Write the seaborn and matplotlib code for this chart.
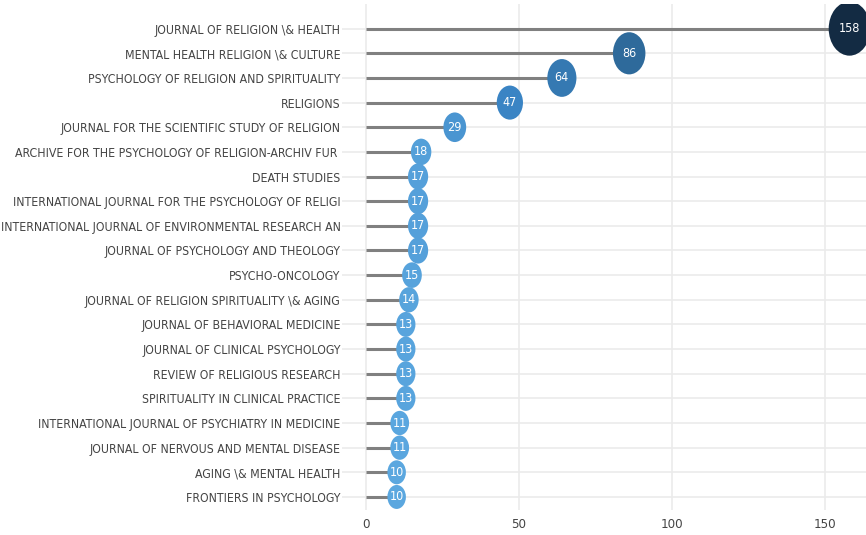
import numpy as np
import pandas as pd
import matplotlib
matplotlib.use("Agg")
import matplotlib.pyplot as plt
import seaborn as sns
from matplotlib.path import Path
from matplotlib.transforms import Affine2D
from matplotlib.colors import LinearSegmentedColormap

# journals, top to bottom
journals = [
    "JOURNAL OF RELIGION \\& HEALTH",
    "MENTAL HEALTH RELIGION \\& CULTURE",
    "PSYCHOLOGY OF RELIGION AND SPIRITUALITY",
    "RELIGIONS",
    "JOURNAL FOR THE SCIENTIFIC STUDY OF RELIGION",
    "ARCHIVE FOR THE PSYCHOLOGY OF RELIGION-ARCHIV FUR ",
    "DEATH STUDIES",
    "INTERNATIONAL JOURNAL FOR THE PSYCHOLOGY OF RELIGI",
    "INTERNATIONAL JOURNAL OF ENVIRONMENTAL RESEARCH AN",
    "JOURNAL OF PSYCHOLOGY AND THEOLOGY",
    "PSYCHO-ONCOLOGY",
    "JOURNAL OF RELIGION SPIRITUALITY \\& AGING",
    "JOURNAL OF BEHAVIORAL MEDICINE",
    "JOURNAL OF CLINICAL PSYCHOLOGY",
    "REVIEW OF RELIGIOUS RESEARCH",
    "SPIRITUALITY IN CLINICAL PRACTICE",
    "INTERNATIONAL JOURNAL OF PSYCHIATRY IN MEDICINE",
    "JOURNAL OF NERVOUS AND MENTAL DISEASE",
    "AGING \\& MENTAL HEALTH",
    "FRONTIERS IN PSYCHOLOGY",
]
articles = [158, 86, 64, 47, 29, 18, 17, 17, 17, 17, 15, 14, 13, 13, 13, 13, 11, 11, 10, 10]
x_ticks = [0, 50, 100, 150]

df = pd.DataFrame({"journal": journals, "n": articles})
df["pos"] = len(df) - 1 - np.arange(len(df))

sns.set_style("white")
plt.rcParams["font.family"] = ["DejaVu Sans", "Liberation Sans"]
plt.rcParams["font.stretch"] = "condensed"

fig = plt.figure(figsize=(8.66, 5.35), dpi=100)
ax = fig.add_axes([0.395, 0.0467, 0.605, 0.9458])

# stems
ax.hlines(df["pos"], 0, df["n"], color="#808080", lw=2.2, zorder=2)

# elliptical bubble marker (taller than wide)
ellipse = Path.unit_circle().transformed(Affine2D().scale(0.77, 1.0))
cmap = LinearSegmentedColormap.from_list(
    "blues_rev", [(0, "#5BA7DF"), (0.25, "#3A84C4"), (0.51, "#2E6A9C"), (1, "#132B43")])

sns.scatterplot(data=df, x="n", y="pos", hue="n", palette=cmap, size="n",
                sizes=((0.72 * 24) ** 2, (0.72 * 54) ** 2), marker=ellipse,
                linewidth=0, legend=False, ax=ax, zorder=3, clip_on=True)

for _, r in df.iterrows():
    ax.text(r["n"], r["pos"], str(r["n"]), color="white", fontsize=9,
            ha="center", va="center", zorder=4)

ax.set_xlim(-7.84, 163.4)
ax.set_ylim(-0.53, 20.0)
ax.set_xticks(x_ticks)
ax.set_yticks(df["pos"])
ax.set_yticklabels(df["journal"])
ax.set_xlabel("")
ax.set_ylabel("")
ax.tick_params(axis="both", length=0, labelcolor="#444444", labelsize=8.8)
ax.tick_params(axis="x", labelsize=9.5)
ax.tick_params(axis="y", pad=1)
ax.tick_params(axis="x", pad=6)
ax.grid(True, color="#ebebeb", lw=1.2)
ax.set_axisbelow(True)
sns.despine(ax=ax, left=True, bottom=True)

fig.savefig("out.png", dpi=100)
